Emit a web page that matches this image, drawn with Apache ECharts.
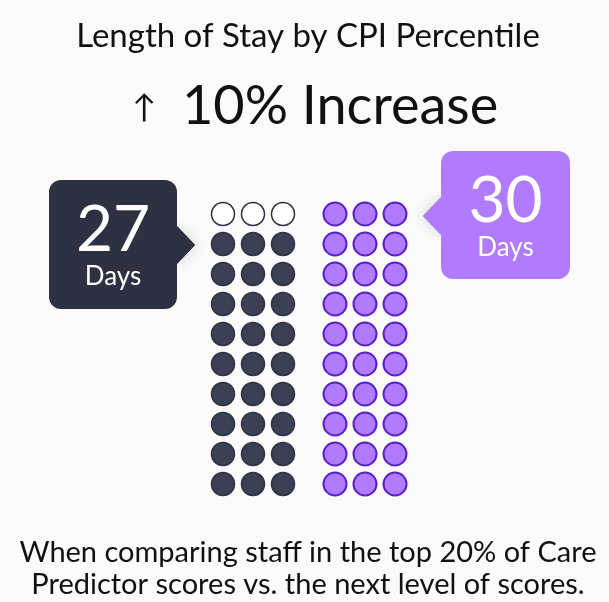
<!DOCTYPE html>
<html>
<head>
<meta charset="utf-8">
<script src="https://cdn.jsdelivr.net/npm/echarts@6/dist/echarts.min.js"></script>
<style>
  html, body { margin: 0; padding: 0; background: #fafafa; }
  #chart { width: 609px; height: 602px; }
</style>
</head>
<body>
<div id="chart"></div>
<script>
// data
const groups = ['Top 20%', 'Next level'];
const stayDays = [27, 30];
const totalDots = 30;
const columns = ['c1', 'c2', 'c3'];
const rows = ['r1', 'r2', 'r3', 'r4', 'r5', 'r6', 'r7', 'r8', 'r9', 'r10'];
const titleText = 'Length of Stay by CPI Percentile';
const headline = '10% Increase';
const footnote = 'When comparing staff in the top 20% of Care\nPredictor scores vs. the next level of scores.';

const FONT = 'Lato, "Noto Sans", sans-serif';
const palette = [
  { fill: '#3c4054', stroke: '#2e3142', box: '#2d3142' },
  { fill: '#b07cff', stroke: '#5a1fc8', box: '#b07bff' }
];

// split the dots of each group into filled / empty, filling from the bottom
function dots(value) {
  const filled = [], empty = [];
  for (let i = 0; i < totalDots; i++) {
    const p = [columns[i % 3], rows[Math.floor(i / 3)]];
    (i < value ? filled : empty).push(p);
  }
  return { filled, empty };
}

const gridBoxes = [
  { left: 208, top: 199, width: 90, height: 300 },
  { left: 320, top: 199, width: 90, height: 300 }
];

const series = [];
groups.forEach((g, k) => {
  const d = dots(stayDays[k]);
  series.push({
    name: g, type: 'scatter', xAxisIndex: k, yAxisIndex: k,
    symbolSize: 23, data: d.filled,
    itemStyle: { color: palette[k].fill, borderColor: palette[k].stroke, borderWidth: k ? 2 : 1.5, opacity: 1 }
  });
  series.push({
    name: g + ' empty', type: 'scatter', xAxisIndex: k, yAxisIndex: k,
    symbolSize: 23, data: d.empty,
    itemStyle: { color: '#ffffff', borderColor: palette[k].box, borderWidth: 1.5, opacity: 1 }
  });
});

function callout(k, box, tipSide) {
  const c = palette[k].box;
  const ptr = tipSide === 'right'
    ? [[box.x + box.w - 1, box.y + 45], [box.x + box.w + 18, box.y + 65], [box.x + box.w - 1, box.y + 85]]
    : [[box.x + 1, box.y + 45], [box.x - 18, box.y + 65], [box.x + 1, box.y + 85]];
  return [
    {
      type: 'polygon', shape: { points: ptr },
      style: { fill: c, shadowBlur: 14, shadowColor: 'rgba(0,0,0,0.18)' }, z: 5
    },
    {
      type: 'rect', shape: { x: box.x, y: box.y, width: box.w, height: box.h, r: 12 },
      style: { fill: c }, z: 6
    },
    {
      type: 'polygon', shape: { points: ptr }, style: { fill: c }, z: 6
    },
    {
      type: 'text', x: box.x + box.w / 2, y: box.y + 50, z: 7,
      style: { text: String(stayDays[k]), fill: '#fff', font: '400 64px ' + FONT, align: 'center', verticalAlign: 'middle' }
    },
    {
      type: 'text', x: box.x + box.w / 2, y: box.y + 97, z: 7,
      style: { text: 'Days', fill: '#fff', font: '400 26px ' + FONT, align: 'center', verticalAlign: 'middle' }
    }
  ];
}

const chart = echarts.init(document.getElementById('chart'));
chart.setOption({
  backgroundColor: '#fafafa',
  animation: false,
  grid: gridBoxes,
  xAxis: gridBoxes.map((b, i) => ({ type: 'category', gridIndex: i, data: columns, show: false })),
  yAxis: gridBoxes.map((b, i) => ({ type: 'category', gridIndex: i, data: rows, show: false })),
  series: series,
  graphic: [
    {
      type: 'text', x: 308, y: 36,
      style: { text: titleText, fill: '#111', font: '400 33px ' + FONT, align: 'center', verticalAlign: 'middle' }
    },
    {
      type: 'text', x: 144, y: 108,
      style: { text: '\u2191', fill: '#111', font: '400 32px ' + FONT, align: 'center', verticalAlign: 'middle' }
    },
    {
      type: 'text', x: 182, y: 107,
      style: { text: headline, fill: '#111', font: '400 54px ' + FONT, align: 'left', verticalAlign: 'middle' }
    },
    {
      type: 'text', x: 308, y: 569,
      style: { text: footnote, fill: '#111', font: '400 29px ' + FONT, align: 'center', verticalAlign: 'middle', lineHeight: 32 }
    },
    ...callout(0, { x: 49, y: 180, w: 128, h: 129 }, 'right'),
    ...callout(1, { x: 441, y: 151, w: 129, h: 128 }, 'left')
  ]
});
</script>
</body>
</html>
